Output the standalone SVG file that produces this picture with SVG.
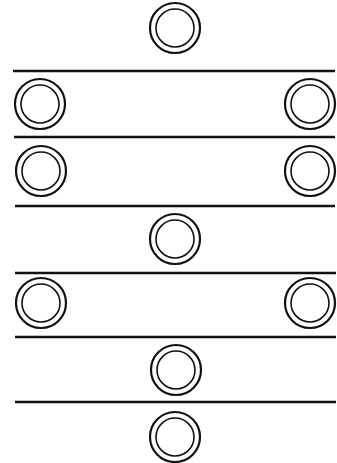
<svg xmlns="http://www.w3.org/2000/svg" width="337" height="463" viewBox="0 0 337 463">
<style>
.o{fill:none;stroke:#111;stroke-width:2.2}
.i{fill:none;stroke:#111;stroke-width:1.6}
.l{stroke:#111;stroke-width:2.6;fill:none}
</style>
<defs>
<g id="ring"><circle class="o" r="25"/><circle class="i" r="19"/></g>
</defs>
<rect width="337" height="463" fill="#fff"/>
<g id="lines">
<line class="l" x1="13" y1="71" x2="335" y2="71"/>
<line class="l" x1="14" y1="137" x2="335" y2="137"/>
<line class="l" x1="15" y1="206" x2="335" y2="206"/>
<line class="l" x1="15" y1="273" x2="336" y2="273"/>
<line class="l" x1="15" y1="337" x2="336" y2="337"/>
<line class="l" x1="15" y1="402" x2="336" y2="402"/>
</g>
<g id="r1"><use href="#ring" x="175" y="28"/></g>
<g id="r2"><use href="#ring" x="40" y="104"/></g>
<g id="r3"><use href="#ring" x="310" y="104"/></g>
<g id="r4"><use href="#ring" x="41" y="171"/></g>
<g id="r5"><use href="#ring" x="310" y="171"/></g>
<g id="r6"><use href="#ring" x="175" y="239"/></g>
<g id="r7"><use href="#ring" x="41" y="303"/></g>
<g id="r8"><use href="#ring" x="310" y="303"/></g>
<g id="r9"><use href="#ring" x="176" y="370"/></g>
<g id="r10"><use href="#ring" x="175" y="437"/></g>
</svg>
